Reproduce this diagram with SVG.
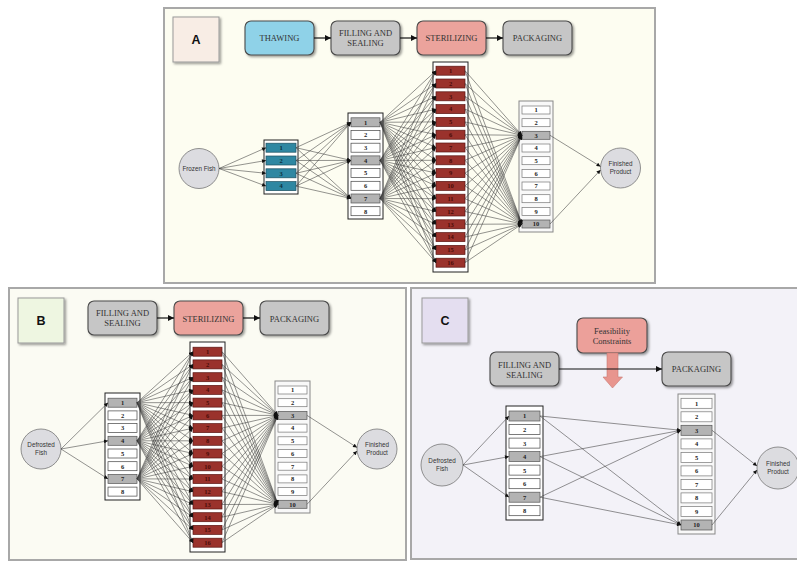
<svg xmlns="http://www.w3.org/2000/svg" width="797" height="562" viewBox="0 0 797 562">
<defs>
<style>
.frame{stroke:#a8a8a8;stroke-width:2}
.hdr{stroke:#4a4a4a;stroke-width:1.1}
.ht{font-family:"Liberation Serif",serif;font-size:8.5px;fill:#333;text-anchor:middle}
.let{font-family:"Liberation Sans",sans-serif;font-size:12.5px;font-weight:bold;fill:#111;text-anchor:middle}
.lbox{stroke:#999;stroke-width:1}
.circ{fill:#dcdce0;stroke:#777;stroke-width:0.8}
.ct{font-family:"Liberation Sans",sans-serif;font-size:6.3px;fill:#333;text-anchor:middle}
.col{fill:#fff;stroke:#222;stroke-width:1}
.colp{fill:#f8f8f8;stroke:#888;stroke-width:1}
.it{fill:#fff;stroke:#444;stroke-width:0.7}
.itp{fill:#fff;stroke:#777;stroke-width:0.7}
.sel{fill:#b3b3b3;stroke:#555;stroke-width:0.7}
.th{fill:#2f87a2;stroke:#1d4f60;stroke-width:0.7}
.st{fill:#9a322c;stroke:#5a1512;stroke-width:0.7}
.n{font-family:"Liberation Serif",serif;font-size:6.5px;font-weight:bold;fill:#222;text-anchor:middle}
.nt{fill:#0d2f3c}
.ns{fill:#4a0c08}
.con line{stroke:#3a3a3a;stroke-width:0.55;marker-end:url(#ah)}
.hc line{stroke:#111;stroke-width:1.2;marker-end:url(#ahb)}
</style>
<marker id="ah" viewBox="0 0 10 10" refX="10" refY="5" markerWidth="5" markerHeight="4" markerUnits="userSpaceOnUse" orient="auto"><path d="M0,0 L10,5 L0,10 z" fill="#111"/></marker>
<marker id="ahb" viewBox="0 0 10 10" refX="10" refY="5" markerWidth="7" markerHeight="6" markerUnits="userSpaceOnUse" orient="auto"><path d="M0,0 L10,5 L0,10 z" fill="#111"/></marker>
<filter id="sh" x="-20%" y="-20%" width="150%" height="150%"><feDropShadow dx="1.5" dy="1.5" stdDeviation="0.8" flood-color="#000" flood-opacity="0.4"/></filter>
</defs>
<rect width="797" height="562" fill="#fff"/>

<!-- Panel frames -->
<rect id="panelA" class="frame" x="164" y="8" width="491" height="275" fill="#fdfdf1"/>
<rect id="panelB" class="frame" x="9" y="288" width="397" height="272" fill="#fbfbf3"/>
<rect id="panelC" class="frame" x="411" y="288" width="392" height="271" fill="#f3f2f8"/>

<!-- ================= PANEL A ================= -->
<g id="A-label"><rect class="lbox" x="173" y="17" width="46" height="45" fill="#f8ede5" filter="url(#sh)"/><text class="let" x="196" y="44">A</text></g>
<g id="A-thawing"><rect class="hdr" x="245" y="21" width="69" height="34" rx="6" fill="#8fd2e8" filter="url(#sh)"/><text class="ht" x="279.5" y="41">THAWING</text></g>
<g id="A-filling"><rect class="hdr" x="331" y="21" width="69" height="34" rx="6" fill="#c6c6c6" filter="url(#sh)"/><text class="ht" x="365.5" y="36">FILLING AND</text><text class="ht" x="365.5" y="45.5">SEALING</text></g>
<g id="A-sterilizing"><rect class="hdr" x="417" y="21" width="69" height="34" rx="6" fill="#eba39c" filter="url(#sh)"/><text class="ht" x="451.5" y="41">STERILIZING</text></g>
<g id="A-packaging"><rect class="hdr" x="503" y="21" width="69" height="34" rx="6" fill="#c6c6c6" filter="url(#sh)"/><text class="ht" x="537.5" y="41">PACKAGING</text></g>

<g id="A-frozen-fish"><circle class="circ" cx="199" cy="168.5" r="20"/><text class="ct" x="199" y="170.8">Frozen Fish</text></g>
<g id="A-finished"><circle class="circ" cx="620.5" cy="168" r="20"/><text class="ct" x="620.5" y="165.5">Finished</text><text class="ct" x="620.5" y="174">Product</text></g>

<g id="A-thaw-col"><rect class="col" x="264" y="140" width="34" height="54"/>
<g id="A-t1"><rect class="th" x="266" y="143.2" width="30" height="9"/><text class="n nt" x="281" y="150">1</text></g>
<g id="A-t2"><rect class="th" x="266" y="156" width="30" height="9"/><text class="n nt" x="281" y="162.8">2</text></g>
<g id="A-t3"><rect class="th" x="266" y="168.8" width="30" height="9"/><text class="n nt" x="281" y="175.6">3</text></g>
<g id="A-t4"><rect class="th" x="266" y="181.6" width="30" height="9"/><text class="n nt" x="281" y="188.4">4</text></g>
</g>

<g id="A-fill-col"><rect class="col" x="348" y="113" width="35" height="106"/>
<g id="A-f1"><rect class="sel" x="351" y="117.8" width="29" height="9"/><text class="n" x="365.5" y="124.6">1</text></g>
<g id="A-f2"><rect class="it" x="351" y="130.5" width="29" height="9"/><text class="n" x="365.5" y="137.3">2</text></g>
<g id="A-f3"><rect class="it" x="351" y="143.2" width="29" height="9"/><text class="n" x="365.5" y="150">3</text></g>
<g id="A-f4"><rect class="sel" x="351" y="155.9" width="29" height="9"/><text class="n" x="365.5" y="162.7">4</text></g>
<g id="A-f5"><rect class="it" x="351" y="168.6" width="29" height="9"/><text class="n" x="365.5" y="175.4">5</text></g>
<g id="A-f6"><rect class="it" x="351" y="181.3" width="29" height="9"/><text class="n" x="365.5" y="188.1">6</text></g>
<g id="A-f7"><rect class="sel" x="351" y="194" width="29" height="9"/><text class="n" x="365.5" y="200.8">7</text></g>
<g id="A-f8"><rect class="it" x="351" y="206.7" width="29" height="9"/><text class="n" x="365.5" y="213.5">8</text></g>
</g>

<g id="A-ster-col"><rect class="col" x="433" y="62" width="35" height="210"/>
<g id="A-s1"><rect class="st" x="436" y="66.2" width="29" height="9"/><text class="n ns" x="450.5" y="73">1</text></g>
<g id="A-s2"><rect class="st" x="436" y="79" width="29" height="9"/><text class="n ns" x="450.5" y="85.8">2</text></g>
<g id="A-s3"><rect class="st" x="436" y="91.8" width="29" height="9"/><text class="n ns" x="450.5" y="98.6">3</text></g>
<g id="A-s4"><rect class="st" x="436" y="104.6" width="29" height="9"/><text class="n ns" x="450.5" y="111.4">4</text></g>
<g id="A-s5"><rect class="st" x="436" y="117.4" width="29" height="9"/><text class="n ns" x="450.5" y="124.2">5</text></g>
<g id="A-s6"><rect class="st" x="436" y="130.2" width="29" height="9"/><text class="n ns" x="450.5" y="137">6</text></g>
<g id="A-s7"><rect class="st" x="436" y="143" width="29" height="9"/><text class="n ns" x="450.5" y="149.8">7</text></g>
<g id="A-s8"><rect class="st" x="436" y="155.8" width="29" height="9"/><text class="n ns" x="450.5" y="162.6">8</text></g>
<g id="A-s9"><rect class="st" x="436" y="168.6" width="29" height="9"/><text class="n ns" x="450.5" y="175.4">9</text></g>
<g id="A-s10"><rect class="st" x="436" y="181.4" width="29" height="9"/><text class="n ns" x="450.5" y="188.2">10</text></g>
<g id="A-s11"><rect class="st" x="436" y="194.2" width="29" height="9"/><text class="n ns" x="450.5" y="201">11</text></g>
<g id="A-s12"><rect class="st" x="436" y="207" width="29" height="9"/><text class="n ns" x="450.5" y="213.8">12</text></g>
<g id="A-s13"><rect class="st" x="436" y="219.8" width="29" height="9"/><text class="n ns" x="450.5" y="226.6">13</text></g>
<g id="A-s14"><rect class="st" x="436" y="232.6" width="29" height="9"/><text class="n ns" x="450.5" y="239.4">14</text></g>
<g id="A-s15"><rect class="st" x="436" y="245.4" width="29" height="9"/><text class="n ns" x="450.5" y="252.2">15</text></g>
<g id="A-s16"><rect class="st" x="436" y="258.2" width="29" height="9"/><text class="n ns" x="450.5" y="265">16</text></g>
</g>

<g id="A-pack-col"><rect class="colp" x="519" y="101" width="34" height="131"/>
<g id="A-p1"><rect class="itp" x="522" y="106" width="28" height="8"/><text class="n" x="536" y="112.3">1</text></g>
<g id="A-p2"><rect class="itp" x="522" y="118.7" width="28" height="8"/><text class="n" x="536" y="125">2</text></g>
<g id="A-p3"><rect class="sel" x="522" y="131.3" width="28" height="8"/><text class="n" x="536" y="137.6">3</text></g>
<g id="A-p4"><rect class="itp" x="522" y="144" width="28" height="8"/><text class="n" x="536" y="150.3">4</text></g>
<g id="A-p5"><rect class="itp" x="522" y="156.7" width="28" height="8"/><text class="n" x="536" y="163">5</text></g>
<g id="A-p6"><rect class="itp" x="522" y="169.4" width="28" height="8"/><text class="n" x="536" y="175.7">6</text></g>
<g id="A-p7"><rect class="itp" x="522" y="182" width="28" height="8"/><text class="n" x="536" y="188.3">7</text></g>
<g id="A-p8"><rect class="itp" x="522" y="194.7" width="28" height="8"/><text class="n" x="536" y="201">8</text></g>
<g id="A-p9"><rect class="itp" x="522" y="207.4" width="28" height="8"/><text class="n" x="536" y="213.7">9</text></g>
<g id="A-p10"><rect class="sel" x="522" y="220" width="28" height="8"/><text class="n" x="536" y="226.3">10</text></g>
</g>

<!-- ================= PANEL B ================= -->
<g id="B-label"><rect class="lbox" x="18" y="298" width="46" height="45" fill="#eef6e1" filter="url(#sh)"/><text class="let" x="41" y="325">B</text></g>
<g id="B-filling"><rect class="hdr" x="88" y="301" width="69" height="34" rx="6" fill="#c6c6c6" filter="url(#sh)"/><text class="ht" x="122.5" y="316">FILLING AND</text><text class="ht" x="122.5" y="326">SEALING</text></g>
<g id="B-sterilizing"><rect class="hdr" x="174" y="301" width="69" height="34" rx="6" fill="#eba39c" filter="url(#sh)"/><text class="ht" x="208.5" y="321.5">STERILIZING</text></g>
<g id="B-packaging"><rect class="hdr" x="260" y="301" width="69" height="34" rx="6" fill="#c6c6c6" filter="url(#sh)"/><text class="ht" x="294.5" y="321.5">PACKAGING</text></g>

<g id="B-defrosted"><circle class="circ" cx="41" cy="449" r="20"/><text class="ct" x="41" y="446.5">Defrosted</text><text class="ct" x="41" y="455">Fish</text></g>
<g id="B-finished"><circle class="circ" cx="377" cy="449" r="20"/><text class="ct" x="377" y="446.5">Finished</text><text class="ct" x="377" y="455">Product</text></g>

<g id="B-fill-col"><rect class="col" x="105" y="393" width="35" height="107"/>
<g id="B-f1"><rect class="sel" x="108" y="398.2" width="29" height="9"/><text class="n" x="122.5" y="405">1</text></g>
<g id="B-f2"><rect class="it" x="108" y="410.9" width="29" height="9"/><text class="n" x="122.5" y="417.7">2</text></g>
<g id="B-f3"><rect class="it" x="108" y="423.6" width="29" height="9"/><text class="n" x="122.5" y="430.4">3</text></g>
<g id="B-f4"><rect class="sel" x="108" y="436.3" width="29" height="9"/><text class="n" x="122.5" y="443.1">4</text></g>
<g id="B-f5"><rect class="it" x="108" y="449" width="29" height="9"/><text class="n" x="122.5" y="455.8">5</text></g>
<g id="B-f6"><rect class="it" x="108" y="461.7" width="29" height="9"/><text class="n" x="122.5" y="468.5">6</text></g>
<g id="B-f7"><rect class="sel" x="108" y="474.4" width="29" height="9"/><text class="n" x="122.5" y="481.2">7</text></g>
<g id="B-f8"><rect class="it" x="108" y="487.1" width="29" height="9"/><text class="n" x="122.5" y="493.9">8</text></g>
</g>

<g id="B-ster-col"><rect class="col" x="190" y="342" width="35" height="210"/>
<g id="B-s1"><rect class="st" x="193" y="347.2" width="29" height="9"/><text class="n ns" x="207.5" y="354">1</text></g>
<g id="B-s2"><rect class="st" x="193" y="359.9" width="29" height="9"/><text class="n ns" x="207.5" y="366.7">2</text></g>
<g id="B-s3"><rect class="st" x="193" y="372.7" width="29" height="9"/><text class="n ns" x="207.5" y="379.5">3</text></g>
<g id="B-s4"><rect class="st" x="193" y="385.4" width="29" height="9"/><text class="n ns" x="207.5" y="392.2">4</text></g>
<g id="B-s5"><rect class="st" x="193" y="398.1" width="29" height="9"/><text class="n ns" x="207.5" y="404.9">5</text></g>
<g id="B-s6"><rect class="st" x="193" y="410.9" width="29" height="9"/><text class="n ns" x="207.5" y="417.7">6</text></g>
<g id="B-s7"><rect class="st" x="193" y="423.6" width="29" height="9"/><text class="n ns" x="207.5" y="430.4">7</text></g>
<g id="B-s8"><rect class="st" x="193" y="436.3" width="29" height="9"/><text class="n ns" x="207.5" y="443.1">8</text></g>
<g id="B-s9"><rect class="st" x="193" y="449" width="29" height="9"/><text class="n ns" x="207.5" y="455.8">9</text></g>
<g id="B-s10"><rect class="st" x="193" y="461.8" width="29" height="9"/><text class="n ns" x="207.5" y="468.6">10</text></g>
<g id="B-s11"><rect class="st" x="193" y="474.5" width="29" height="9"/><text class="n ns" x="207.5" y="481.3">11</text></g>
<g id="B-s12"><rect class="st" x="193" y="487.2" width="29" height="9"/><text class="n ns" x="207.5" y="494">12</text></g>
<g id="B-s13"><rect class="st" x="193" y="500" width="29" height="9"/><text class="n ns" x="207.5" y="506.8">13</text></g>
<g id="B-s14"><rect class="st" x="193" y="512.7" width="29" height="9"/><text class="n ns" x="207.5" y="519.5">14</text></g>
<g id="B-s15"><rect class="st" x="193" y="525.4" width="29" height="9"/><text class="n ns" x="207.5" y="532.2">15</text></g>
<g id="B-s16"><rect class="st" x="193" y="538.2" width="29" height="9"/><text class="n ns" x="207.5" y="545">16</text></g>
</g>

<g id="B-pack-col"><rect class="colp" x="275" y="381" width="35" height="132"/>
<g id="B-p1"><rect class="itp" x="278" y="386" width="29" height="8"/><text class="n" x="292.5" y="392.3">1</text></g>
<g id="B-p2"><rect class="itp" x="278" y="398.7" width="29" height="8"/><text class="n" x="292.5" y="405">2</text></g>
<g id="B-p3"><rect class="sel" x="278" y="411.4" width="29" height="8"/><text class="n" x="292.5" y="417.7">3</text></g>
<g id="B-p4"><rect class="itp" x="278" y="424.1" width="29" height="8"/><text class="n" x="292.5" y="430.4">4</text></g>
<g id="B-p5"><rect class="itp" x="278" y="436.8" width="29" height="8"/><text class="n" x="292.5" y="443.1">5</text></g>
<g id="B-p6"><rect class="itp" x="278" y="449.5" width="29" height="8"/><text class="n" x="292.5" y="455.8">6</text></g>
<g id="B-p7"><rect class="itp" x="278" y="462.2" width="29" height="8"/><text class="n" x="292.5" y="468.5">7</text></g>
<g id="B-p8"><rect class="itp" x="278" y="474.9" width="29" height="8"/><text class="n" x="292.5" y="481.2">8</text></g>
<g id="B-p9"><rect class="itp" x="278" y="487.6" width="29" height="8"/><text class="n" x="292.5" y="493.9">9</text></g>
<g id="B-p10"><rect class="sel" x="278" y="500.3" width="29" height="8"/><text class="n" x="292.5" y="506.6">10</text></g>
</g>

<!-- ================= PANEL C ================= -->
<g id="C-label"><rect class="lbox" x="422" y="298" width="46" height="45" fill="#e4def0" filter="url(#sh)"/><text class="let" x="445" y="325">C</text></g>
<g id="C-feasibility"><rect class="hdr" x="577" y="318" width="70" height="35" rx="6" fill="#eca09a" filter="url(#sh)"/><text class="ht" x="612" y="333.5">Feasibility</text><text class="ht" x="612" y="344">Constraints</text></g>
<g id="C-constraint-arrow"><path d="M607,353 L618,353 L618,377 L622.5,377 L612.5,388 L603,377 L607,377 Z" fill="#e8958e" stroke="#c77a74" stroke-width="0.6"/></g>
<g id="C-filling"><rect class="hdr" x="490" y="352" width="69" height="34" rx="6" fill="#c6c6c6" filter="url(#sh)"/><text class="ht" x="524.5" y="368">FILLING AND</text><text class="ht" x="524.5" y="377.5">SEALING</text></g>
<g id="C-packaging"><rect class="hdr" x="662" y="352" width="69" height="34" rx="6" fill="#c6c6c6" filter="url(#sh)"/><text class="ht" x="696.5" y="372">PACKAGING</text></g>

<g id="C-defrosted"><circle class="circ" cx="442" cy="465" r="21"/><text class="ct" x="442" y="462.5">Defrosted</text><text class="ct" x="442" y="471">Fish</text></g>
<g id="C-finished"><circle class="circ" cx="778" cy="468" r="21"/><text class="ct" x="778" y="465.5">Finished</text><text class="ct" x="778" y="474">Product</text></g>

<g id="C-fill-col"><rect class="col" x="506" y="406" width="37" height="114"/>
<g id="C-f1"><rect class="sel" x="509" y="411" width="31" height="10"/><text class="n" x="524.5" y="418.4">1</text></g>
<g id="C-f2"><rect class="it" x="509" y="424.5" width="31" height="10"/><text class="n" x="524.5" y="431.9">2</text></g>
<g id="C-f3"><rect class="it" x="509" y="438.1" width="31" height="10"/><text class="n" x="524.5" y="445.5">3</text></g>
<g id="C-f4"><rect class="sel" x="509" y="451.6" width="31" height="10"/><text class="n" x="524.5" y="459">4</text></g>
<g id="C-f5"><rect class="it" x="509" y="465.1" width="31" height="10"/><text class="n" x="524.5" y="472.5">5</text></g>
<g id="C-f6"><rect class="it" x="509" y="478.7" width="31" height="10"/><text class="n" x="524.5" y="486.1">6</text></g>
<g id="C-f7"><rect class="sel" x="509" y="492.2" width="31" height="10"/><text class="n" x="524.5" y="499.6">7</text></g>
<g id="C-f8"><rect class="it" x="509" y="505.7" width="31" height="10"/><text class="n" x="524.5" y="513.1">8</text></g>
</g>

<g id="C-pack-col"><rect class="colp" x="678" y="394" width="37" height="140"/>
<g id="C-p1"><rect class="itp" x="681" y="398.3" width="31" height="10"/><text class="n" x="696.5" y="405.7">1</text></g>
<g id="C-p2"><rect class="itp" x="681" y="411.8" width="31" height="10"/><text class="n" x="696.5" y="419.2">2</text></g>
<g id="C-p3"><rect class="sel" x="681" y="425.3" width="31" height="10"/><text class="n" x="696.5" y="432.7">3</text></g>
<g id="C-p4"><rect class="itp" x="681" y="438.9" width="31" height="10"/><text class="n" x="696.5" y="446.3">4</text></g>
<g id="C-p5"><rect class="itp" x="681" y="452.4" width="31" height="10"/><text class="n" x="696.5" y="459.8">5</text></g>
<g id="C-p6"><rect class="itp" x="681" y="465.9" width="31" height="10"/><text class="n" x="696.5" y="473.3">6</text></g>
<g id="C-p7"><rect class="itp" x="681" y="479.4" width="31" height="10"/><text class="n" x="696.5" y="486.8">7</text></g>
<g id="C-p8"><rect class="itp" x="681" y="492.9" width="31" height="10"/><text class="n" x="696.5" y="500.3">8</text></g>
<g id="C-p9"><rect class="itp" x="681" y="506.5" width="31" height="10"/><text class="n" x="696.5" y="513.9">9</text></g>
<g id="C-p10"><rect class="sel" x="681" y="520" width="31" height="10"/><text class="n" x="696.5" y="527.4">10</text></g>
</g>

<!-- ================= CONNECTORS ================= -->
<g id="connectors">
<g class="hc">
<line x1="314" y1="38" x2="331" y2="38"/>
<line x1="400" y1="38" x2="417" y2="38"/>
<line x1="486" y1="38" x2="503" y2="38"/>
<line x1="157" y1="318" x2="174" y2="318"/>
<line x1="243" y1="318" x2="260" y2="318"/>
<line x1="559" y1="369" x2="662" y2="369"/>
</g>
<g class="con">
<!-- A: fish to thawing -->
<line x1="219" y1="168.5" x2="266" y2="147.7"/>
<line x1="219" y1="168.5" x2="266" y2="160.5"/>
<line x1="219" y1="168.5" x2="266" y2="173.3"/>
<line x1="219" y1="168.5" x2="266" y2="186.1"/>
<!-- A: thawing to filling -->
<line x1="296" y1="147.7" x2="351" y2="122.3"/>
<line x1="296" y1="147.7" x2="351" y2="160.4"/>
<line x1="296" y1="147.7" x2="351" y2="198.5"/>
<line x1="296" y1="160.5" x2="351" y2="122.3"/>
<line x1="296" y1="160.5" x2="351" y2="160.4"/>
<line x1="296" y1="160.5" x2="351" y2="198.5"/>
<line x1="296" y1="173.3" x2="351" y2="122.3"/>
<line x1="296" y1="173.3" x2="351" y2="160.4"/>
<line x1="296" y1="173.3" x2="351" y2="198.5"/>
<line x1="296" y1="186.1" x2="351" y2="122.3"/>
<line x1="296" y1="186.1" x2="351" y2="160.4"/>
<line x1="296" y1="186.1" x2="351" y2="198.5"/>
<!-- A: filling 1 to sterilizing -->
<line x1="380" y1="122.3" x2="436" y2="70.7"/>
<line x1="380" y1="122.3" x2="436" y2="83.5"/>
<line x1="380" y1="122.3" x2="436" y2="96.3"/>
<line x1="380" y1="122.3" x2="436" y2="109.1"/>
<line x1="380" y1="122.3" x2="436" y2="121.9"/>
<line x1="380" y1="122.3" x2="436" y2="134.7"/>
<line x1="380" y1="122.3" x2="436" y2="147.5"/>
<line x1="380" y1="122.3" x2="436" y2="160.3"/>
<line x1="380" y1="122.3" x2="436" y2="173.1"/>
<line x1="380" y1="122.3" x2="436" y2="185.9"/>
<line x1="380" y1="122.3" x2="436" y2="198.7"/>
<line x1="380" y1="122.3" x2="436" y2="211.5"/>
<line x1="380" y1="122.3" x2="436" y2="224.3"/>
<line x1="380" y1="122.3" x2="436" y2="237.1"/>
<line x1="380" y1="122.3" x2="436" y2="249.9"/>
<line x1="380" y1="122.3" x2="436" y2="262.7"/>
<!-- A: filling 4 to sterilizing -->
<line x1="380" y1="160.4" x2="436" y2="70.7"/>
<line x1="380" y1="160.4" x2="436" y2="83.5"/>
<line x1="380" y1="160.4" x2="436" y2="96.3"/>
<line x1="380" y1="160.4" x2="436" y2="109.1"/>
<line x1="380" y1="160.4" x2="436" y2="121.9"/>
<line x1="380" y1="160.4" x2="436" y2="134.7"/>
<line x1="380" y1="160.4" x2="436" y2="147.5"/>
<line x1="380" y1="160.4" x2="436" y2="160.3"/>
<line x1="380" y1="160.4" x2="436" y2="173.1"/>
<line x1="380" y1="160.4" x2="436" y2="185.9"/>
<line x1="380" y1="160.4" x2="436" y2="198.7"/>
<line x1="380" y1="160.4" x2="436" y2="211.5"/>
<line x1="380" y1="160.4" x2="436" y2="224.3"/>
<line x1="380" y1="160.4" x2="436" y2="237.1"/>
<line x1="380" y1="160.4" x2="436" y2="249.9"/>
<line x1="380" y1="160.4" x2="436" y2="262.7"/>
<!-- A: filling 7 to sterilizing -->
<line x1="380" y1="198.5" x2="436" y2="70.7"/>
<line x1="380" y1="198.5" x2="436" y2="83.5"/>
<line x1="380" y1="198.5" x2="436" y2="96.3"/>
<line x1="380" y1="198.5" x2="436" y2="109.1"/>
<line x1="380" y1="198.5" x2="436" y2="121.9"/>
<line x1="380" y1="198.5" x2="436" y2="134.7"/>
<line x1="380" y1="198.5" x2="436" y2="147.5"/>
<line x1="380" y1="198.5" x2="436" y2="160.3"/>
<line x1="380" y1="198.5" x2="436" y2="173.1"/>
<line x1="380" y1="198.5" x2="436" y2="185.9"/>
<line x1="380" y1="198.5" x2="436" y2="198.7"/>
<line x1="380" y1="198.5" x2="436" y2="211.5"/>
<line x1="380" y1="198.5" x2="436" y2="224.3"/>
<line x1="380" y1="198.5" x2="436" y2="237.1"/>
<line x1="380" y1="198.5" x2="436" y2="249.9"/>
<line x1="380" y1="198.5" x2="436" y2="262.7"/>
<!-- A: sterilizing to packaging 3 -->
<line x1="465" y1="70.7" x2="522" y2="135.3"/>
<line x1="465" y1="83.5" x2="522" y2="135.3"/>
<line x1="465" y1="96.3" x2="522" y2="135.3"/>
<line x1="465" y1="109.1" x2="522" y2="135.3"/>
<line x1="465" y1="121.9" x2="522" y2="135.3"/>
<line x1="465" y1="134.7" x2="522" y2="135.3"/>
<line x1="465" y1="147.5" x2="522" y2="135.3"/>
<line x1="465" y1="160.3" x2="522" y2="135.3"/>
<line x1="465" y1="173.1" x2="522" y2="135.3"/>
<line x1="465" y1="185.9" x2="522" y2="135.3"/>
<line x1="465" y1="198.7" x2="522" y2="135.3"/>
<line x1="465" y1="211.5" x2="522" y2="135.3"/>
<line x1="465" y1="224.3" x2="522" y2="135.3"/>
<line x1="465" y1="237.1" x2="522" y2="135.3"/>
<line x1="465" y1="249.9" x2="522" y2="135.3"/>
<line x1="465" y1="262.7" x2="522" y2="135.3"/>
<!-- A: sterilizing to packaging 10 -->
<line x1="465" y1="70.7" x2="522" y2="224"/>
<line x1="465" y1="83.5" x2="522" y2="224"/>
<line x1="465" y1="96.3" x2="522" y2="224"/>
<line x1="465" y1="109.1" x2="522" y2="224"/>
<line x1="465" y1="121.9" x2="522" y2="224"/>
<line x1="465" y1="134.7" x2="522" y2="224"/>
<line x1="465" y1="147.5" x2="522" y2="224"/>
<line x1="465" y1="160.3" x2="522" y2="224"/>
<line x1="465" y1="173.1" x2="522" y2="224"/>
<line x1="465" y1="185.9" x2="522" y2="224"/>
<line x1="465" y1="198.7" x2="522" y2="224"/>
<line x1="465" y1="211.5" x2="522" y2="224"/>
<line x1="465" y1="224.3" x2="522" y2="224"/>
<line x1="465" y1="237.1" x2="522" y2="224"/>
<line x1="465" y1="249.9" x2="522" y2="224"/>
<line x1="465" y1="262.7" x2="522" y2="224"/>
<!-- A: packaging to finished -->
<line x1="550" y1="135.3" x2="600.5" y2="166.5"/>
<line x1="550" y1="224" x2="600.5" y2="170"/>

<!-- B: fish to filling -->
<line x1="61" y1="449" x2="108" y2="402.7"/>
<line x1="61" y1="449" x2="108" y2="440.8"/>
<line x1="61" y1="449" x2="108" y2="478.9"/>
<!-- B: filling 1 to sterilizing -->
<line x1="137" y1="402.7" x2="193" y2="351.7"/>
<line x1="137" y1="402.7" x2="193" y2="364.4"/>
<line x1="137" y1="402.7" x2="193" y2="377.2"/>
<line x1="137" y1="402.7" x2="193" y2="389.9"/>
<line x1="137" y1="402.7" x2="193" y2="402.6"/>
<line x1="137" y1="402.7" x2="193" y2="415.4"/>
<line x1="137" y1="402.7" x2="193" y2="428.1"/>
<line x1="137" y1="402.7" x2="193" y2="440.8"/>
<line x1="137" y1="402.7" x2="193" y2="453.5"/>
<line x1="137" y1="402.7" x2="193" y2="466.3"/>
<line x1="137" y1="402.7" x2="193" y2="479"/>
<line x1="137" y1="402.7" x2="193" y2="491.7"/>
<line x1="137" y1="402.7" x2="193" y2="504.5"/>
<line x1="137" y1="402.7" x2="193" y2="517.2"/>
<line x1="137" y1="402.7" x2="193" y2="529.9"/>
<line x1="137" y1="402.7" x2="193" y2="542.7"/>
<!-- B: filling 4 to sterilizing -->
<line x1="137" y1="440.8" x2="193" y2="351.7"/>
<line x1="137" y1="440.8" x2="193" y2="364.4"/>
<line x1="137" y1="440.8" x2="193" y2="377.2"/>
<line x1="137" y1="440.8" x2="193" y2="389.9"/>
<line x1="137" y1="440.8" x2="193" y2="402.6"/>
<line x1="137" y1="440.8" x2="193" y2="415.4"/>
<line x1="137" y1="440.8" x2="193" y2="428.1"/>
<line x1="137" y1="440.8" x2="193" y2="440.8"/>
<line x1="137" y1="440.8" x2="193" y2="453.5"/>
<line x1="137" y1="440.8" x2="193" y2="466.3"/>
<line x1="137" y1="440.8" x2="193" y2="479"/>
<line x1="137" y1="440.8" x2="193" y2="491.7"/>
<line x1="137" y1="440.8" x2="193" y2="504.5"/>
<line x1="137" y1="440.8" x2="193" y2="517.2"/>
<line x1="137" y1="440.8" x2="193" y2="529.9"/>
<line x1="137" y1="440.8" x2="193" y2="542.7"/>
<!-- B: filling 7 to sterilizing -->
<line x1="137" y1="478.9" x2="193" y2="351.7"/>
<line x1="137" y1="478.9" x2="193" y2="364.4"/>
<line x1="137" y1="478.9" x2="193" y2="377.2"/>
<line x1="137" y1="478.9" x2="193" y2="389.9"/>
<line x1="137" y1="478.9" x2="193" y2="402.6"/>
<line x1="137" y1="478.9" x2="193" y2="415.4"/>
<line x1="137" y1="478.9" x2="193" y2="428.1"/>
<line x1="137" y1="478.9" x2="193" y2="440.8"/>
<line x1="137" y1="478.9" x2="193" y2="453.5"/>
<line x1="137" y1="478.9" x2="193" y2="466.3"/>
<line x1="137" y1="478.9" x2="193" y2="479"/>
<line x1="137" y1="478.9" x2="193" y2="491.7"/>
<line x1="137" y1="478.9" x2="193" y2="504.5"/>
<line x1="137" y1="478.9" x2="193" y2="517.2"/>
<line x1="137" y1="478.9" x2="193" y2="529.9"/>
<line x1="137" y1="478.9" x2="193" y2="542.7"/>
<!-- B: sterilizing to packaging 3 -->
<line x1="222" y1="351.7" x2="278" y2="415.4"/>
<line x1="222" y1="364.4" x2="278" y2="415.4"/>
<line x1="222" y1="377.2" x2="278" y2="415.4"/>
<line x1="222" y1="389.9" x2="278" y2="415.4"/>
<line x1="222" y1="402.6" x2="278" y2="415.4"/>
<line x1="222" y1="415.4" x2="278" y2="415.4"/>
<line x1="222" y1="428.1" x2="278" y2="415.4"/>
<line x1="222" y1="440.8" x2="278" y2="415.4"/>
<line x1="222" y1="453.5" x2="278" y2="415.4"/>
<line x1="222" y1="466.3" x2="278" y2="415.4"/>
<line x1="222" y1="479" x2="278" y2="415.4"/>
<line x1="222" y1="491.7" x2="278" y2="415.4"/>
<line x1="222" y1="504.5" x2="278" y2="415.4"/>
<line x1="222" y1="517.2" x2="278" y2="415.4"/>
<line x1="222" y1="529.9" x2="278" y2="415.4"/>
<line x1="222" y1="542.7" x2="278" y2="415.4"/>
<!-- B: sterilizing to packaging 10 -->
<line x1="222" y1="351.7" x2="278" y2="504.3"/>
<line x1="222" y1="364.4" x2="278" y2="504.3"/>
<line x1="222" y1="377.2" x2="278" y2="504.3"/>
<line x1="222" y1="389.9" x2="278" y2="504.3"/>
<line x1="222" y1="402.6" x2="278" y2="504.3"/>
<line x1="222" y1="415.4" x2="278" y2="504.3"/>
<line x1="222" y1="428.1" x2="278" y2="504.3"/>
<line x1="222" y1="440.8" x2="278" y2="504.3"/>
<line x1="222" y1="453.5" x2="278" y2="504.3"/>
<line x1="222" y1="466.3" x2="278" y2="504.3"/>
<line x1="222" y1="479" x2="278" y2="504.3"/>
<line x1="222" y1="491.7" x2="278" y2="504.3"/>
<line x1="222" y1="504.5" x2="278" y2="504.3"/>
<line x1="222" y1="517.2" x2="278" y2="504.3"/>
<line x1="222" y1="529.9" x2="278" y2="504.3"/>
<line x1="222" y1="542.7" x2="278" y2="504.3"/>
<!-- B: packaging to finished -->
<line x1="307" y1="415.4" x2="357" y2="447.5"/>
<line x1="307" y1="504.3" x2="357" y2="451"/>

<!-- C: fish to filling -->
<line x1="463" y1="465" x2="509" y2="416"/>
<line x1="463" y1="465" x2="509" y2="456.6"/>
<line x1="463" y1="465" x2="509" y2="497.2"/>
<!-- C: filling to packaging -->
<line x1="540" y1="416" x2="681" y2="430.3"/>
<line x1="540" y1="416" x2="681" y2="525"/>
<line x1="540" y1="456.6" x2="681" y2="430.3"/>
<line x1="540" y1="456.6" x2="681" y2="525"/>
<line x1="540" y1="497.2" x2="681" y2="430.3"/>
<line x1="540" y1="497.2" x2="681" y2="525"/>
<!-- C: packaging to finished -->
<line x1="712" y1="430.3" x2="757" y2="466"/>
<line x1="712" y1="525" x2="757" y2="470"/>
</g>
</g>
</svg>
